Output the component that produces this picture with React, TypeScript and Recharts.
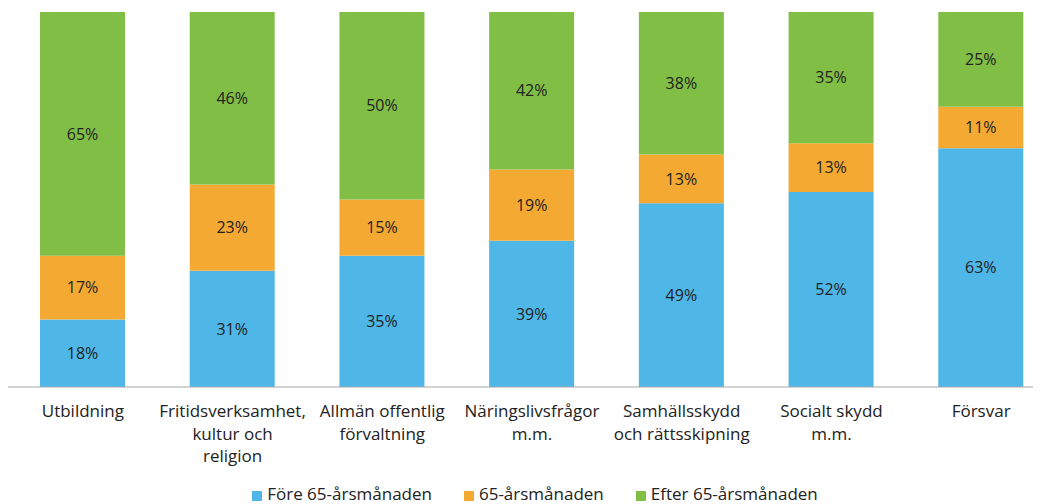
import React from "react";
import { Bar, BarChart, LabelList, Legend, XAxis, YAxis } from "recharts";

const categories = [
  "Utbildning",
  "Fritidsverksamhet, kultur och religion",
  "Allmän offentlig förvaltning",
  "Näringslivsfrågor m.m.",
  "Samhällsskydd och rättsskipning",
  "Socialt skydd m.m.",
  "Försvar",
];

const tickLines = [
  ["Utbildning"],
  ["Fritidsverksamhet,", "kultur och", "religion"],
  ["Allmän offentlig", "förvaltning"],
  ["Näringslivsfrågor", "m.m."],
  ["Samhällsskydd", "och rättsskipning"],
  ["Socialt skydd", "m.m."],
  ["Försvar"],
];

const fore = [18, 31, 35, 39, 49, 52, 63];
const under = [17, 23, 15, 19, 13, 13, 11];
const efter = [65, 46, 50, 42, 38, 35, 25];

const seriesNames = ["Före 65-årsmånaden", "65-årsmånaden", "Efter 65-årsmånaden"];
const colors = ["#4EB7E8", "#F4AA32", "#80BE45"];

const data = categories.map((name, i) => ({
  name,
  fore: fore[i],
  under: under[i],
  efter: efter[i],
}));

const FONT = "'Open Sans', Lato, sans-serif";
const TEXT = "#222";

function CategoryTick(props: any) {
  const { x, y, payload } = props;
  const lines = tickLines[payload.index] || [payload.value];
  return (
    <text x={x} y={y} textAnchor="middle" fill={TEXT} fontSize={17} fontFamily={FONT}>
      {lines.map((l, i) => (
        <tspan key={i} x={x} dy={i === 0 ? 28 : 22.5}>
          {l}
        </tspan>
      ))}
    </text>
  );
}

function LegendContent() {
  return (
    <div
      style={{
        display: "flex",
        justifyContent: "center",
        gap: 32,
        height: 20,
        lineHeight: "20px",
        alignItems: "center",
        fontFamily: FONT,
        fontSize: 17,
        color: TEXT,
        paddingLeft: 6,
      }}
    >
      {seriesNames.map((n, i) => (
        <div key={n} style={{ display: "flex", alignItems: "center", gap: 5 }}>
          <span
            style={{
              width: 10,
              height: 10,
              background: colors[i],
              display: "inline-block",
              marginTop: 3,
            }}
          />
          <span>{n}</span>
        </div>
      ))}
    </div>
  );
}

const pct = (v: any) => `${v}%`;

export default function App() {
  return (
    <div style={{ width: 1033, height: 496, overflow: "hidden" }}>
      <BarChart
        width={1060}
        height={496}
        data={data}
        stackOffset="expand"
        margin={{ top: 4, right: 12, bottom: 0, left: 0 }}
        barCategoryGap={0}
      >
        <XAxis
          dataKey="name"
          tick={<CategoryTick />}
          tickLine={false}
          tickSize={0}
          axisLine={{ stroke: "#A6A6A6" }}
          height={97}
          interval={0}
        />
        <YAxis hide domain={[0, 1]} />
        <Legend verticalAlign="bottom" content={<LegendContent />} />
        <Bar dataKey="fore" stackId="a" fill={colors[0]} barSize={85} isAnimationActive={false}>
          <LabelList dataKey="fore" position="center" formatter={pct} fill={TEXT} fontSize={16} fontFamily={FONT} />
        </Bar>
        <Bar dataKey="under" stackId="a" fill={colors[1]} barSize={85} isAnimationActive={false}>
          <LabelList dataKey="under" position="center" formatter={pct} fill={TEXT} fontSize={16} fontFamily={FONT} />
        </Bar>
        <Bar dataKey="efter" stackId="a" fill={colors[2]} barSize={85} isAnimationActive={false}>
          <LabelList dataKey="efter" position="center" formatter={pct} fill={TEXT} fontSize={16} fontFamily={FONT} />
        </Bar>
      </BarChart>
    </div>
  );
}
